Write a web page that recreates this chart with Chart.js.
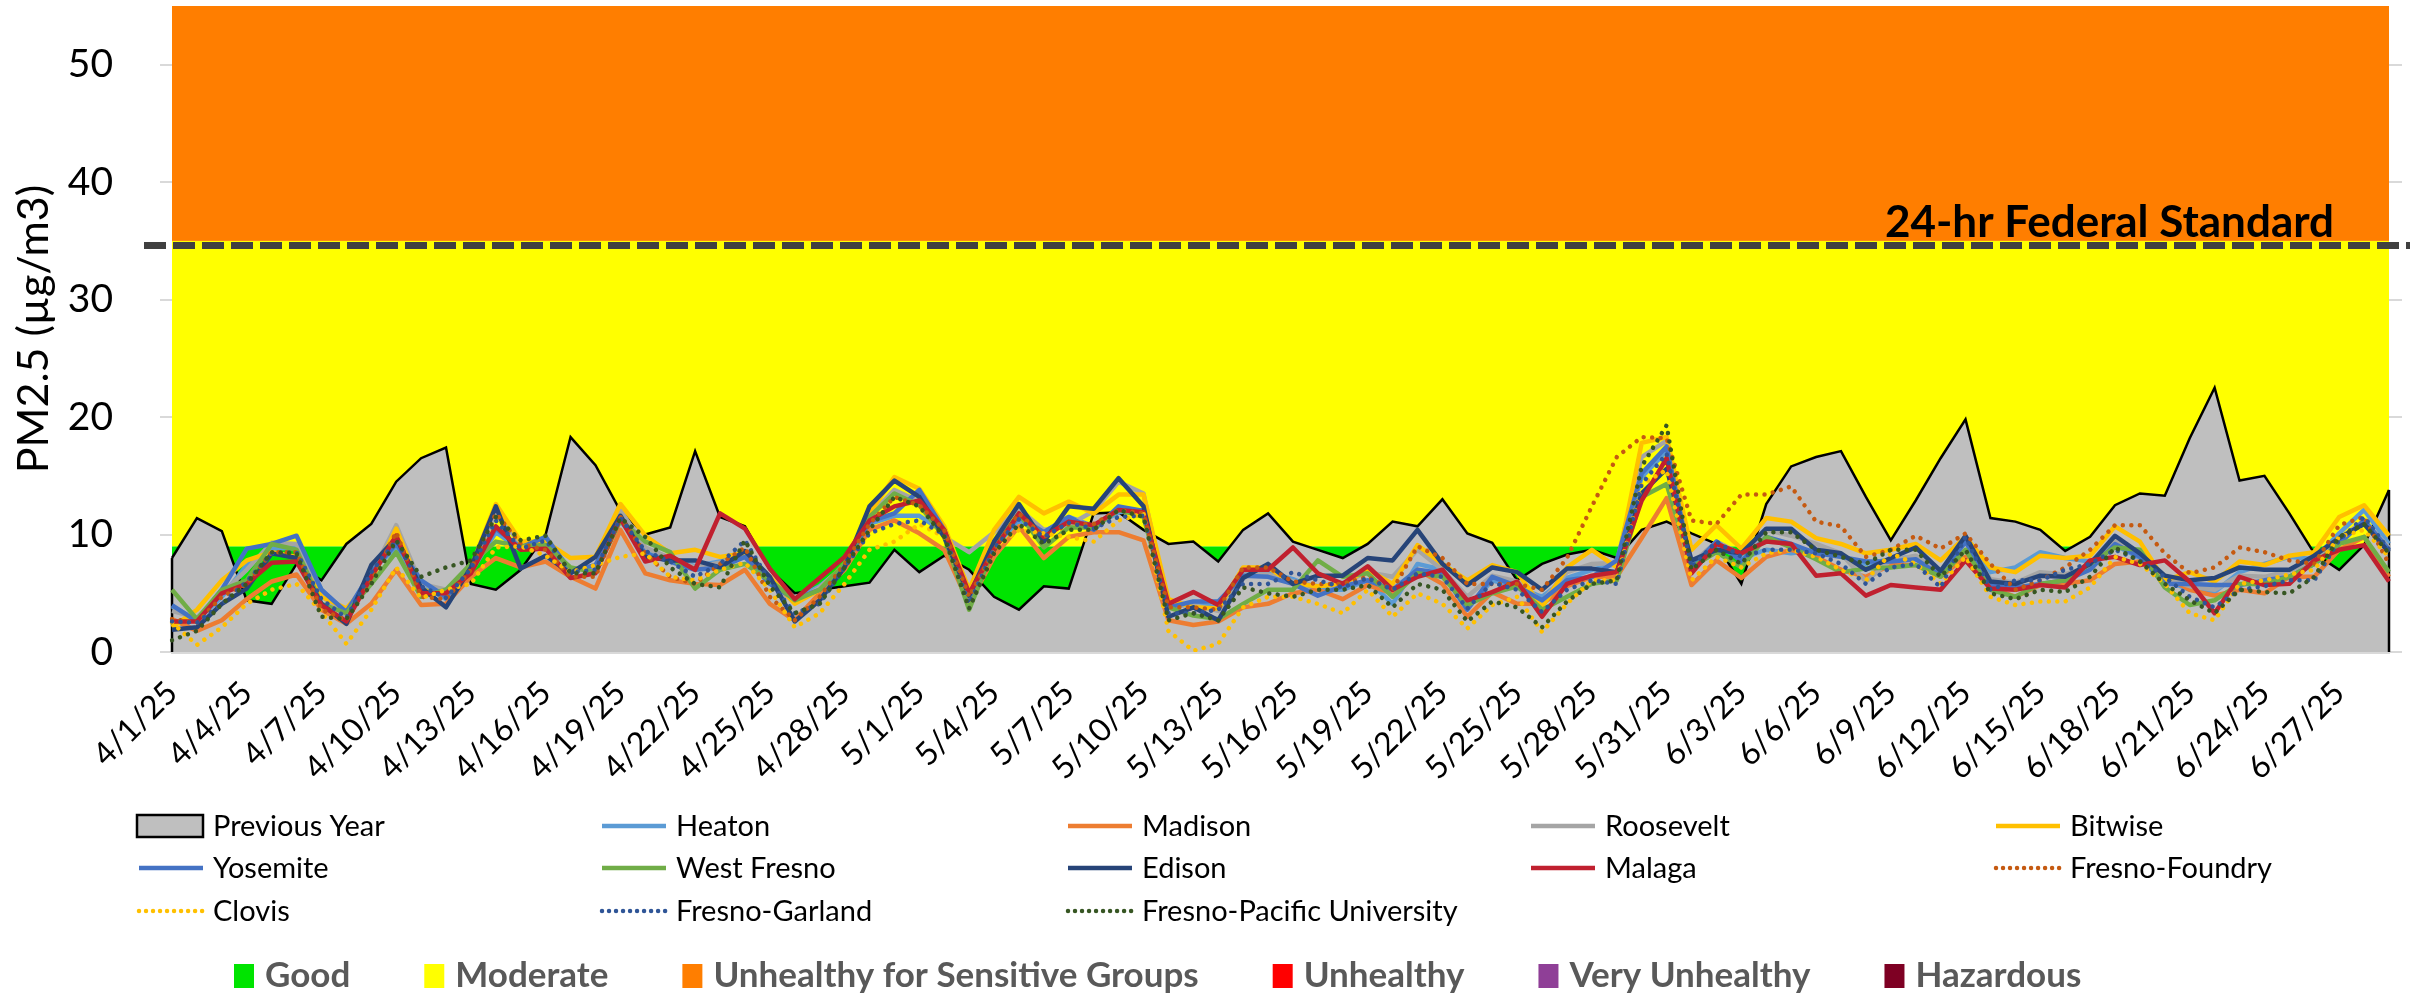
<!DOCTYPE html>
<html>
<head>
<meta charset="utf-8">
<script src="https://cdn.jsdelivr.net/npm/chart.js@4.4.1/dist/chart.umd.min.js"></script>
<style>
html,body{margin:0;padding:0;background:#ffffff;overflow:hidden}
canvas{display:block}
</style>
</head>
<body>
<canvas id="c" width="2435" height="996"></canvas>
<script>
// ---------- DATA ----------
const DATES = [
 "4/1/25","4/2/25","4/3/25","4/4/25","4/5/25","4/6/25","4/7/25","4/8/25","4/9/25","4/10/25",
 "4/11/25","4/12/25","4/13/25","4/14/25","4/15/25","4/16/25","4/17/25","4/18/25","4/19/25","4/20/25",
 "4/21/25","4/22/25","4/23/25","4/24/25","4/25/25","4/26/25","4/27/25","4/28/25","4/29/25","4/30/25",
 "5/1/25","5/2/25","5/3/25","5/4/25","5/5/25","5/6/25","5/7/25","5/8/25","5/9/25","5/10/25",
 "5/11/25","5/12/25","5/13/25","5/14/25","5/15/25","5/16/25","5/17/25","5/18/25","5/19/25","5/20/25",
 "5/21/25","5/22/25","5/23/25","5/24/25","5/25/25","5/26/25","5/27/25","5/28/25","5/29/25","5/30/25",
 "5/31/25","6/1/25","6/2/25","6/3/25","6/4/25","6/5/25","6/6/25","6/7/25","6/8/25","6/9/25",
 "6/10/25","6/11/25","6/12/25","6/13/25","6/14/25","6/15/25","6/16/25","6/17/25","6/18/25","6/19/25",
 "6/20/25","6/21/25","6/22/25","6/23/25","6/24/25","6/25/25","6/26/25","6/27/25","6/28/25","6/29/25"
];

const PREVIOUS_YEAR = [
 8.0,11.4,10.3,4.4,4.1,7.5,6.1,9.2,10.9,14.5,
 16.5,17.4,5.8,5.3,7.0,10.0,18.3,15.9,12.0,10.0,
 10.6,17.1,11.5,10.7,7.0,5.0,5.3,5.6,5.9,8.7,
 6.8,8.2,7.0,4.7,3.6,5.6,5.4,11.8,11.9,10.4,
 9.2,9.4,7.7,10.4,11.8,9.4,8.7,8.0,9.2,11.1,
 10.7,13.0,10.1,9.3,6.1,7.5,8.3,8.7,8.0,10.4,
 11.1,10.1,9.2,5.8,12.6,15.8,16.6,17.1,13.2,9.5,
 12.9,16.5,19.8,11.4,11.1,10.4,8.6,9.8,12.5,13.5,
 13.3,18.2,22.5,14.6,15.0,11.8,8.4,7.0,9.1,13.8
];
const HEATON = [
 3.9,2.7,4.7,7.4,8.8,8.9,5.3,3.2,6.9,8.9,
 5.8,4.5,6.8,10.2,8.7,9.6,7.0,7.2,11.5,8.7,
 7.9,7.3,7.7,8.4,5.9,4.5,5.6,7.3,10.9,11.6,
 11.6,10.2,4.6,8.9,11.2,10.2,11.5,10.7,11.9,12.1,
 3.8,4.1,3.8,6.8,6.8,6.2,5.3,5.3,6.1,4.1,
 7.5,7.0,3.8,6.1,5.5,4.7,6.3,7.0,7.5,14.9,
 17.1,7.0,9.0,8.0,8.7,8.4,8.7,8.1,7.5,7.9,
 8.1,6.6,9.5,6.8,7.2,8.5,8.0,7.7,9.1,8.0,
 6.1,5.3,5.1,6.8,7.5,8.1,7.9,10.1,12.1,9.2
];
const MADISON = [
 2.8,1.8,2.7,4.5,6.0,6.6,3.6,2.4,4.1,7.0,
 4.0,4.1,6.4,8.0,7.2,7.7,6.4,5.4,10.4,6.7,
 6.1,5.8,5.7,7.0,4.1,2.7,5.0,7.0,10.4,11.2,
 10.1,8.7,4.1,8.1,10.7,8.0,9.8,10.2,10.2,9.5,
 2.7,2.3,2.6,3.8,4.1,5.0,5.3,4.5,5.7,5.0,
 7.0,5.8,3.0,5.1,4.1,4.1,5.6,6.4,6.4,9.7,
 13.1,5.7,7.8,6.3,8.1,8.7,8.1,7.0,6.4,7.4,
 7.4,6.4,8.1,5.5,4.7,5.7,5.8,6.1,7.5,7.7,
 6.4,5.3,4.8,5.3,5.0,6.4,6.4,8.7,9.8,6.4
];
const ROOSEVELT = [
 3.5,2.9,5.0,7.0,9.3,9.2,4.8,3.0,6.6,10.8,
 5.8,5.3,7.0,11.8,9.2,9.2,7.0,7.2,12.1,8.9,
 8.0,7.2,7.6,8.3,6.0,4.2,5.5,7.4,11.6,13.8,
 12.8,9.8,8.5,10.2,12.2,10.4,10.8,12.0,14.5,13.5,
 3.9,4.0,3.5,6.6,6.6,6.0,5.6,5.9,6.8,6.4,
 8.7,7.0,4.7,6.5,6.0,4.3,6.8,7.5,7.6,16.6,
 18.0,7.5,9.4,8.3,10.4,9.9,9.2,8.4,6.0,7.8,
 8.2,6.7,9.4,6.2,5.9,6.8,6.6,7.3,9.6,8.5,
 6.3,5.6,5.3,6.5,6.4,6.9,7.8,9.6,11.2,8.9
];
const BITWISE = [
 2.1,3.6,6.1,7.8,8.5,8.1,4.7,3.7,6.1,10.5,
 5.3,4.9,7.2,12.6,9.4,9.4,8.0,8.1,12.6,9.9,
 8.4,8.7,8.1,8.4,6.4,4.1,5.3,7.5,11.8,14.9,
 13.9,10.7,5.3,10.4,13.2,11.8,12.8,11.8,13.4,13.4,
 4.5,3.8,3.7,7.2,7.2,5.8,5.6,5.8,7.0,5.8,
 9.1,7.5,6.1,7.4,6.8,3.8,7.2,8.7,7.2,17.8,
 18.3,8.7,10.8,8.8,11.4,11.1,9.7,9.2,8.4,8.7,
 9.2,7.8,9.8,7.2,6.8,8.2,8.0,8.2,10.7,9.4,
 6.1,6.8,6.0,7.7,7.4,8.2,8.5,11.5,12.5,9.9
];
const YOSEMITE = [
 4.0,2.6,5.3,8.8,9.2,9.9,5.3,3.4,6.8,9.2,
 6.1,4.7,7.0,10.5,8.9,9.8,6.9,7.4,11.2,8.4,
 7.7,7.0,7.2,8.1,5.8,4.5,5.3,7.4,11.1,11.8,
 13.8,10.4,4.5,9.2,11.5,10.2,11.5,10.4,12.4,12.0,
 3.8,4.3,4.3,6.5,6.4,5.8,4.8,5.6,6.1,5.3,
 7.0,6.7,3.6,6.4,5.6,4.4,6.1,6.4,7.8,15.2,
 17.5,7.2,9.4,7.7,9.8,9.2,8.4,8.1,7.7,7.7,
 7.9,6.5,9.4,5.7,5.5,5.8,6.1,7.0,9.2,8.1,
 5.8,5.8,5.7,5.7,6.1,6.4,7.5,9.2,11.2,8.7
];
const WEST_FRESNO = [
 5.3,2.8,5.3,6.1,9.2,8.7,4.1,3.3,5.8,8.5,
 4.7,5.3,7.5,9.4,9.0,9.1,7.2,6.8,11.2,9.4,
 8.5,5.4,7.0,7.5,6.1,4.4,5.3,7.5,11.5,13.5,
 12.5,9.8,3.6,8.9,11.8,8.9,10.6,10.6,12.1,11.5,
 3.8,3.1,2.8,4.1,5.3,5.3,7.8,6.4,6.7,4.7,
 6.7,6.4,4.0,5.0,5.6,3.6,4.7,5.8,6.1,13.2,
 14.3,7.2,8.5,7.2,9.8,8.9,7.9,6.8,7.1,7.2,
 7.4,6.4,8.7,5.3,4.7,5.8,6.1,7.5,8.9,8.7,
 5.5,4.0,4.4,5.8,5.8,6.4,7.5,9.2,9.8,6.8
];
const EDISON = [
 1.9,2.1,4.1,5.4,8.4,8.0,4.1,2.4,7.4,9.7,
 5.5,3.8,7.2,12.4,7.1,8.2,6.7,8.1,11.6,8.1,
 7.8,7.8,7.2,8.6,6.4,2.6,4.4,7.2,12.4,14.6,
 13.2,9.8,4.8,9.4,12.6,9.4,12.4,12.2,14.8,12.4,
 3.0,3.8,2.7,6.3,7.5,5.8,6.5,6.5,8.0,7.8,
 10.4,7.5,5.7,7.2,6.8,5.3,7.1,7.1,6.8,13.5,
 15.6,7.8,8.7,8.4,10.5,10.5,8.7,8.4,7.0,8.0,
 8.9,6.9,9.9,6.0,5.8,6.5,6.4,7.5,9.9,8.4,
 6.5,6.1,6.3,7.2,7.0,7.0,8.2,9.7,10.9,8.5
];
const MALAGA = [
 2.6,2.6,5.0,5.8,7.6,7.7,4.0,2.6,6.4,9.9,
 5.0,5.0,6.7,10.7,8.7,8.8,6.3,6.7,11.4,7.7,
 8.2,7.0,11.8,10.5,7.1,4.5,6.3,8.1,11.2,12.4,
 12.9,10.4,5.0,8.7,11.8,9.8,11.1,10.8,12.1,11.9,
 4.1,5.1,4.0,7.0,7.0,8.9,6.7,5.8,7.3,5.3,
 6.4,7.0,4.4,5.1,6.0,3.0,5.8,6.5,6.8,12.9,
 16.5,6.7,9.2,8.4,9.4,9.2,6.5,6.7,4.8,5.7,
 5.5,5.3,7.8,5.4,5.3,5.7,5.5,7.8,8.1,7.4,
 7.8,6.0,3.3,6.4,5.7,5.8,7.8,8.7,9.1,6.0
];
const FRESNO_FOUNDRY = [
 2.8,2.5,4.7,5.8,8.5,8.5,3.6,2.7,6.0,10.2,
 4.7,4.5,7.0,11.8,9.2,8.7,6.4,6.4,11.5,8.4,
 6.4,5.8,7.5,8.9,4.7,2.7,4.7,7.5,10.9,13.2,
 12.5,10.4,4.7,8.7,11.8,9.8,10.9,10.9,12.1,11.8,
 3.8,3.8,3.6,7.2,7.2,6.0,5.8,5.8,6.4,5.3,
 9.0,8.0,5.8,5.8,5.8,5.3,8.0,12.4,16.6,18.3,
 18.2,11.2,10.9,13.4,13.4,14.1,11.1,10.7,8.1,8.7,
 9.9,8.8,10.1,7.5,5.3,6.1,7.2,8.7,10.8,10.8,
 8.4,6.7,7.2,8.9,8.5,7.8,7.5,10.8,11.5,7.5
];
const CLOVIS = [
 2.5,0.6,2.1,4.1,5.3,5.8,3.4,0.7,3.6,7.2,
 4.6,5.3,5.8,8.9,9.0,8.2,6.8,7.4,8.1,8.4,
 6.4,6.1,7.0,7.6,5.3,2.1,3.3,5.8,8.7,9.4,
 10.9,9.8,4.1,8.7,10.4,10.1,9.8,9.4,11.2,11.8,
 1.8,0.1,0.7,3.8,4.7,4.7,4.1,3.3,5.3,3.0,
 5.0,4.1,2.0,4.0,4.7,1.7,4.1,6.1,6.1,14.3,
 15.5,6.1,8.1,7.2,8.4,8.7,8.1,7.0,6.1,8.4,
 7.5,5.8,8.1,4.7,4.0,4.3,4.3,5.5,8.1,7.5,
 5.8,3.3,2.7,5.8,6.1,6.6,7.0,9.8,10.4,8.1
];
const FRESNO_GARLAND = [
 2.6,2.5,4.1,6.0,8.4,8.5,4.5,2.9,6.8,9.5,
 5.6,4.6,7.1,11.2,8.8,9.5,6.8,7.0,11.4,8.6,
 7.7,6.4,7.5,9.5,6.0,3.3,4.1,7.2,10.1,10.9,
 11.2,10.0,4.1,8.8,11.3,9.8,11.0,10.5,11.5,11.6,
 3.3,3.3,3.6,5.8,5.8,6.8,6.1,5.5,6.3,5.3,
 6.7,6.4,3.7,5.9,5.3,3.4,5.3,6.1,5.8,14.3,
 16.9,7.2,9.4,8.1,8.7,8.7,8.4,7.5,5.8,7.2,
 7.5,5.5,9.8,5.3,6.1,6.1,7.0,7.5,8.7,7.8,
 6.4,4.7,3.8,5.3,5.6,6.1,6.1,9.5,11.5,8.7
];
const FRESNO_PACIFIC = [
 1.0,1.8,4.1,5.8,8.5,8.4,3.0,2.8,5.8,9.5,
 6.4,7.2,7.8,11.5,9.5,9.9,6.7,6.7,11.4,9.8,
 7.2,5.8,5.5,9.5,5.6,3.3,4.1,7.2,10.4,13.2,
 12.4,9.8,3.7,8.4,10.9,9.2,10.4,10.4,12.1,11.5,
 2.7,3.3,2.7,5.5,5.0,4.7,5.3,5.3,5.7,3.8,
 5.8,5.3,2.6,4.3,3.8,2.1,4.3,5.8,6.1,15.8,
 19.3,7.0,8.7,7.5,10.2,10.2,8.7,8.1,7.5,8.7,
 8.7,6.4,8.7,5.0,4.5,5.3,5.1,6.4,8.9,7.7,
 5.8,4.4,3.3,5.3,5.1,5.0,6.4,9.8,10.9,8.4
];

const Y_TICKS = [0, 10, 20, 30, 40, 50];
const Y_MAX = 55;
const FEDERAL_STANDARD = 34.6;
const AQI_NAMES = ["Good","Moderate","Unhealthy for Sensitive Groups","Unhealthy","Very Unhealthy","Hazardous"];
const AQI_LOWER = [0, 9, 35, 55.4, 125.4, 225.4];
const AQI_UPPER = [9, 35, 55.4, 125.4, 225.4, 500];

// ---------- STYLE ----------
const AQI_COLORS = ["#00E400","#FFFF00","#FF7E00","#FF0000","#8F3F97","#7E0023"];
const FONT = "Lato";

const STATIONS = [
  {label:"Heaton", data:HEATON, color:"#5B9BD5", dotted:false},
  {label:"Madison", data:MADISON, color:"#ED7D31", dotted:false},
  {label:"Roosevelt", data:ROOSEVELT, color:"#A5A5A5", dotted:false},
  {label:"Bitwise", data:BITWISE, color:"#FFC000", dotted:false},
  {label:"Yosemite", data:YOSEMITE, color:"#4472C4", dotted:false},
  {label:"West Fresno", data:WEST_FRESNO, color:"#70AD47", dotted:false},
  {label:"Edison", data:EDISON, color:"#264478", dotted:false},
  {label:"Malaga", data:MALAGA, color:"#C0202F", dotted:false},
  {label:"Fresno-Foundry", data:FRESNO_FOUNDRY, color:"#C55A11", dotted:true},
  {label:"Clovis", data:CLOVIS, color:"#FFC000", dotted:true},
  {label:"Fresno-Garland", data:FRESNO_GARLAND, color:"#2F5597", dotted:true},
  {label:"Fresno-Pacific University", data:FRESNO_PACIFIC, color:"#375623", dotted:true}
];

const DOT_DASH = [0.01, 8.5];

const datasets = [
  {label:"Previous Year", data:PREVIOUS_YEAR, fill:"origin", backgroundColor:"#BFBFBF",
   borderColor:"#000000", borderWidth:2.5, order:100, isArea:true}
].concat(STATIONS.map((s, i) => ({
  label:s.label, data:s.data, borderColor:s.color, backgroundColor:s.color,
  borderWidth:4.5, fill:false, order:50 - i,
  borderDash: s.dotted ? DOT_DASH : [],
  borderCapStyle: s.dotted ? "round" : "butt",
  borderJoinStyle: "round"
})));

// ---------- PLUGINS ----------
const bandsPlugin = {
  id:"aqiBands",
  beforeDraw(chart){
    const {ctx, chartArea:{left,right}, scales:{y}} = chart;
    ctx.save();
    for (let i = 0; i < AQI_NAMES.length; i++){
      if (AQI_LOWER[i] >= Y_MAX) continue;
      const yTop = y.getPixelForValue(Math.min(AQI_UPPER[i], Y_MAX));
      const yBot = y.getPixelForValue(AQI_LOWER[i]);
      ctx.fillStyle = AQI_COLORS[i];
      ctx.fillRect(left, yTop, right - left, yBot - yTop);
    }
    ctx.restore();
  }
};

const areaEdgePlugin = {
  id:"areaEdges",
  afterDatasetDraw(chart, args){
    const ds = chart.data.datasets[args.index];
    if (!ds.isArea) return;
    const pts = args.meta.data;
    const y0 = chart.scales.y.getPixelForValue(0);
    const ctx = chart.ctx;
    ctx.save();
    ctx.strokeStyle = "#000000";
    ctx.lineWidth = 2.5;
    [pts[0], pts[pts.length - 1]].forEach(p => {
      ctx.beginPath();
      ctx.moveTo(p.x, p.y);
      ctx.lineTo(p.x, y0);
      ctx.stroke();
    });
    ctx.restore();
  }
};

const standardPlugin = {
  id:"federalStandard",
  afterDatasetsDraw(chart){
    const {ctx, chartArea:{left,right}, scales:{y}} = chart;
    const py = y.getPixelForValue(FEDERAL_STANDARD);
    ctx.save();
    ctx.strokeStyle = "#404040";
    ctx.lineWidth = 7;
    ctx.setLineDash([22, 7]);
    ctx.beginPath();
    ctx.moveTo(left - 28, py);
    ctx.lineTo(right + 21, py);
    ctx.stroke();
    ctx.setLineDash([]);
    ctx.fillStyle = "#000000";
    ctx.font = "bold 44px " + FONT;
    ctx.textAlign = "right";
    ctx.textBaseline = "alphabetic";
    ctx.fillText("24-hr Federal Standard", right - 55, py - 9);
    ctx.restore();
  }
};

const legendPlugin = {
  id:"gridLegend",
  afterDraw(chart){
    const ctx = chart.ctx;
    const cols = [137, 600, 1066, 1529, 1994];
    const rows = [826, 868, 911];
    ctx.save();
    ctx.font = "29px " + FONT;
    ctx.textBaseline = "middle";
    ctx.textAlign = "left";
    chart.data.datasets.forEach((ds, i) => {
      const x = cols[i % 5], y = rows[Math.floor(i / 5)];
      if (ds.isArea){
        ctx.fillStyle = ds.backgroundColor;
        ctx.fillRect(x, y - 11, 66, 22);
        ctx.strokeStyle = ds.borderColor;
        ctx.lineWidth = 2.5;
        ctx.setLineDash([]);
        ctx.strokeRect(x, y - 11, 66, 22);
      } else {
        ctx.strokeStyle = ds.borderColor;
        ctx.lineWidth = 4.5;
        ctx.lineCap = ds.borderCapStyle;
        ctx.setLineDash(ds.borderDash.length ? [0.01, 7] : []);
        ctx.beginPath();
        ctx.moveTo(x + 2, y);
        ctx.lineTo(x + 66, y);
        ctx.stroke();
        ctx.setLineDash([]);
        ctx.lineCap = "butt";
      }
      ctx.fillStyle = "#000000";
      ctx.fillText(ds.label, x + 76, y + 1);
    });

    // AQI category legend
    ctx.font = "bold 35px " + FONT;
    let x = 234;
    const y = 976;
    for (let i = 0; i < AQI_NAMES.length; i++){
      ctx.fillStyle = AQI_COLORS[i];
      ctx.fillRect(x, y - 12, 20, 24);
      x += 31;
      ctx.fillStyle = "#595959";
      ctx.fillText(AQI_NAMES[i], x, y);
      x += ctx.measureText(AQI_NAMES[i]).width + 74;
    }
    ctx.restore();
  }
};

// ---------- CHART ----------
new Chart(document.getElementById("c"), {
  type:"line",
  data:{labels:DATES, datasets},
  options:{
    responsive:false,
    animation:false,
    devicePixelRatio:1,
    layout:{padding:{top:6, left:0, right:0, bottom:0}},
    elements:{point:{radius:0, hoverRadius:0}, line:{tension:0}},
    plugins:{legend:{display:false}, tooltip:{enabled:false}},
    scales:{
      x:{
        type:"category",
        offset:false,
        grid:{display:false},
        border:{display:true, color:"#D9D9D9", width:3},
        ticks:{
          autoSkip:false, maxRotation:45, minRotation:45,
          color:"#000000", font:{family:FONT, size:32}, padding:14,
          callback:(v, i) => (i % 3 === 0 ? DATES[i] : "")
        },
        afterFit:(s) => { s.height = 344; s.paddingLeft = 0; s.paddingRight = 0; }
      },
      y:{
        position:"left",
        min:0, max:Y_MAX,
        afterBuildTicks:(s) => { s.ticks = Y_TICKS.map(v => ({value:v})); },
        grid:{drawOnChartArea:false, drawTicks:true, tickLength:12, color:"#D9D9D9", lineWidth:2},
        border:{display:false},
        ticks:{color:"#000000", font:{family:FONT, size:39}, padding:47},
        title:{display:true, text:"PM2.5 (µg/m3)", color:"#000000",
               font:{family:FONT, size:43}, padding:{top:8, bottom:0}},
        afterFit:(s) => { s.width = 172; s.paddingTop = 0; s.paddingBottom = 0; }
      },
      y2:{
        position:"right",
        min:0, max:Y_MAX,
        afterBuildTicks:(s) => { s.ticks = Y_TICKS.map(v => ({value:v})); },
        grid:{drawOnChartArea:false, drawTicks:true, tickLength:13, color:"#D9D9D9", lineWidth:2},
        border:{display:false},
        ticks:{display:false},
        afterFit:(s) => { s.width = 46; s.paddingTop = 0; s.paddingBottom = 0; }
      }
    }
  },
  plugins:[bandsPlugin, areaEdgePlugin, standardPlugin, legendPlugin]
});
</script>
</body>
</html>
